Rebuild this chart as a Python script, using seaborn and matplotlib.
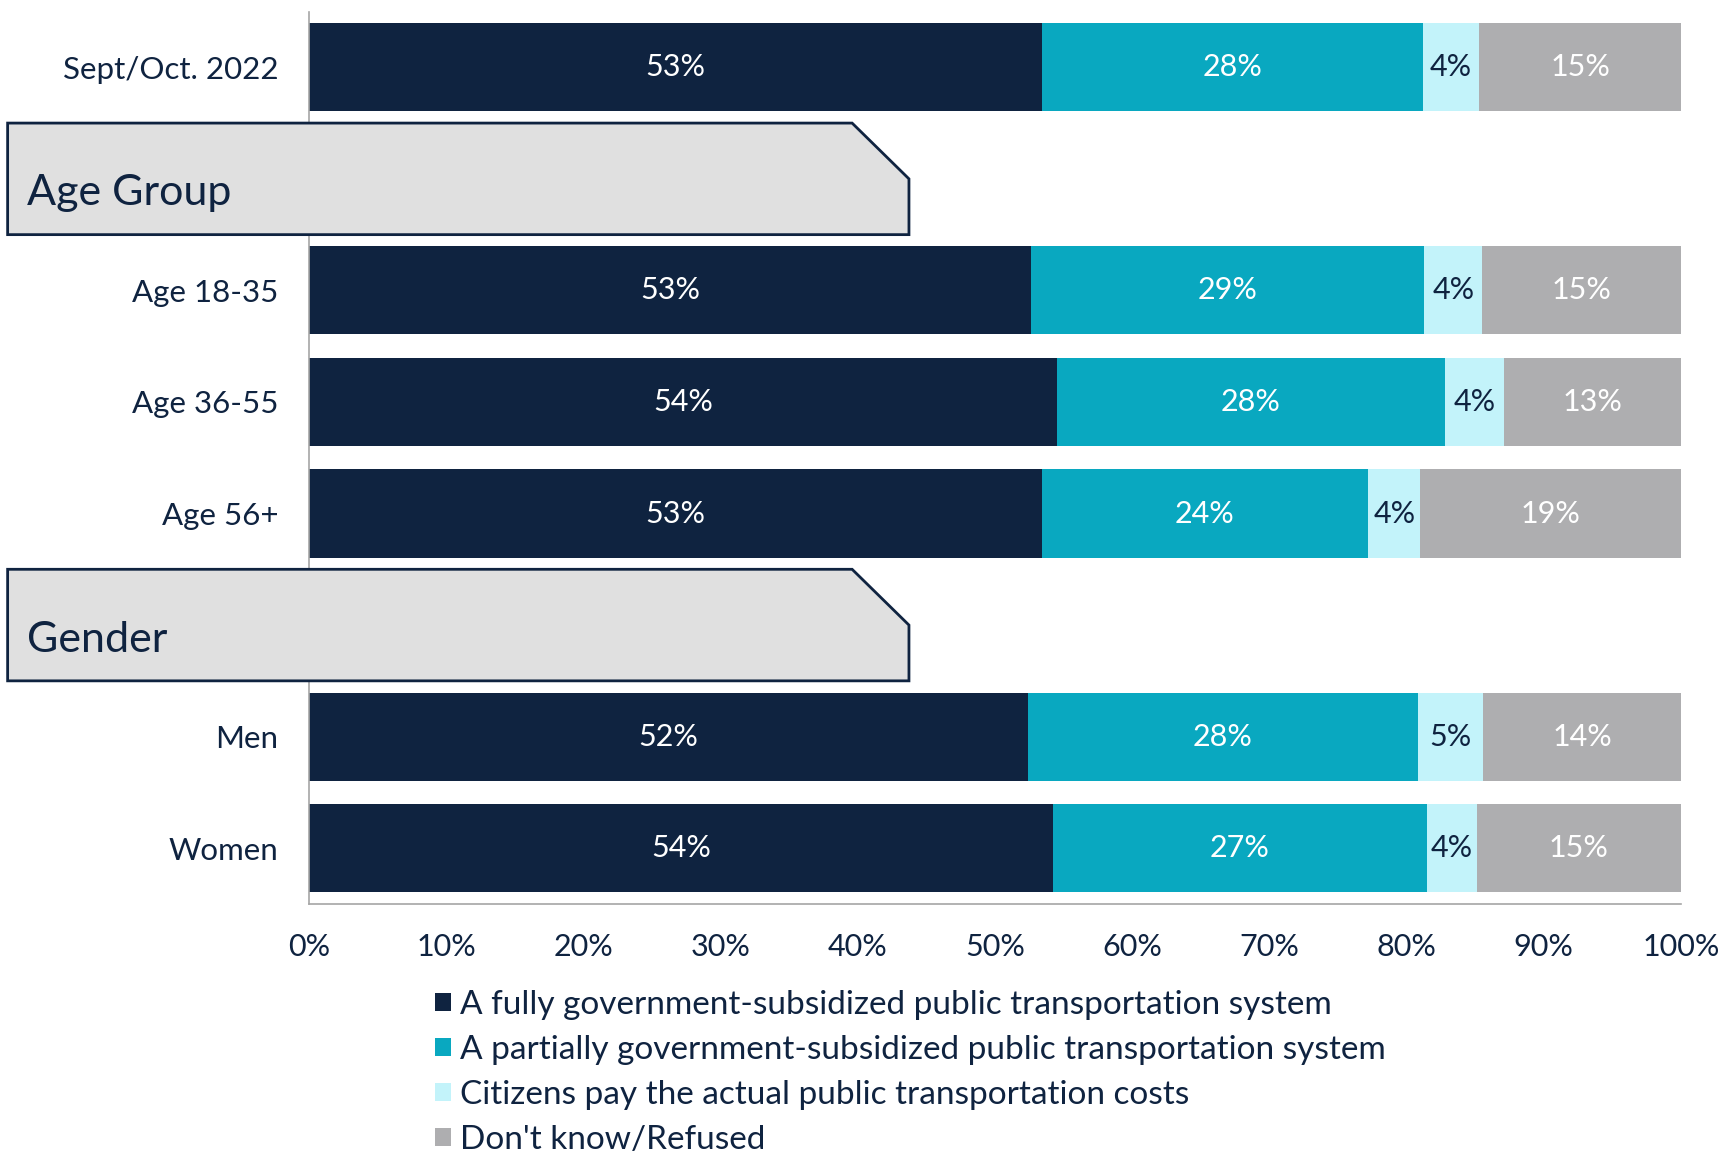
import numpy as np
import matplotlib.pyplot as plt
import matplotlib.transforms as mtransforms
from matplotlib.patches import Polygon, Patch
import seaborn as sns

# rows of the chart (header rows are only boxes, no bars)
row_order = ['Sept/Oct. 2022', 'Age Group', 'Age 18-35', 'Age 36-55', 'Age 56+',
             'Gender', 'Men', 'Women']
headers = ['Age Group', 'Gender']
groups = ['Sept/Oct. 2022', 'Age 18-35', 'Age 36-55', 'Age 56+', 'Men', 'Women']

series = ['A fully government-subsidized public transportation system',
          'A partially government-subsidized public transportation system',
          'Citizens pay the actual public transportation costs',
          "Don't know/Refused"]

# shares (percent)
fully = [53.4, 52.6, 54.5, 53.4, 52.4, 54.2]
partially = [27.8, 28.7, 28.3, 23.8, 28.4, 27.3]
actual = [4.1, 4.2, 4.3, 3.8, 4.8, 3.6]
dont_know = [14.7, 14.5, 12.9, 19.0, 14.4, 14.9]

# printed labels
fully_lbl = ['53%', '53%', '54%', '53%', '52%', '54%']
partially_lbl = ['28%', '29%', '28%', '24%', '28%', '27%']
actual_lbl = ['4%', '4%', '4%', '4%', '5%', '4%']
dont_know_lbl = ['15%', '15%', '13%', '19%', '14%', '15%']

navy = '#0f2340'
colors = [navy, '#09a8c0', '#c3f3fa', '#aeaeb0']
label_colors = ['white', 'white', navy, 'white']
axis_grey = '#a6a6a6'

sns.set_style('white')
plt.rcParams['font.family'] = ['Lato', 'DejaVu Sans']

fig = plt.figure(figsize=(17.33, 11.53), dpi=100)
ax = fig.add_axes([0.1783, 0.216, 0.970 - 0.1783, 0.990 - 0.216])

values = np.array([fully, partially, actual, dont_know])
labels = [fully_lbl, partially_lbl, actual_lbl, dont_know_lbl]
cum = values.cumsum(axis=0)

# stacked bars: draw the cumulative totals back to front
for k in range(3, -1, -1):
    sns.barplot(x=cum[k], y=groups, order=row_order, orient='h', color=colors[k],
                saturation=1, width=0.79, linewidth=0, ax=ax)

for k in range(4):
    for i, g in enumerate(groups):
        left = cum[k][i] - values[k][i]
        ax.text(left + values[k][i] / 2, row_order.index(g), labels[k][i],
                ha='center', va='center', color=label_colors[k], fontsize=22)

ax.set_xlim(0, 100)
ax.set_ylim(7.5, -0.5)
ax.set_xlabel('')
ax.set_ylabel('')
ax.set_xticks(np.arange(0, 101, 10))
ax.set_xticklabels([f'{t}%' for t in range(0, 101, 10)], fontsize=22, color=navy)
ax.set_yticks(range(len(row_order)))
ax.set_yticklabels(['' if r in headers else r for r in row_order], fontsize=22.5, color=navy)
ax.set_yticks(np.arange(-0.5, len(row_order), 1), minor=True)
ax.tick_params(axis='y', which='major', length=0, pad=22)
ax.tick_params(axis='y', which='minor', length=7, width=1.2, color=axis_grey, direction='out')
ax.tick_params(axis='x', which='major', length=9, width=1.2, color=axis_grey,
               direction='out', pad=12)
for side in ['top', 'right']:
    ax.spines[side].set_visible(False)
for side in ['left', 'bottom']:
    ax.spines[side].set_color(axis_grey)
    ax.spines[side].set_linewidth(1.2)

# section header boxes with a cut corner
trans = mtransforms.blended_transform_factory(fig.transFigure, ax.transData)
x0, xc, x1 = 0.0044, 0.4917, 0.5245
for h in headers:
    y = row_order.index(h)
    box = Polygon([(x0, y - 0.5), (xc, y - 0.5), (x1, y), (x1, y + 0.5), (x0, y + 0.5)],
                  closed=True, transform=trans, facecolor='#e0e0e0', edgecolor=navy,
                  linewidth=2, clip_on=False, zorder=6)
    ax.add_patch(box)
    ax.text(0.0155, y + 0.13, h, transform=trans, ha='left', va='center',
            fontsize=31, color=navy, zorder=7, clip_on=False)

handles = [Patch(facecolor=c, edgecolor='none') for c in colors]
fig.legend(handles, series, loc='upper left', bbox_to_anchor=(0.2435, 0.153),
           frameon=False, fontsize=24, labelcolor=navy, handlelength=0.47,
           handleheight=0.47, handletextpad=0.27, labelspacing=0.45, borderaxespad=0)

fig.savefig('out.png', dpi=100)
